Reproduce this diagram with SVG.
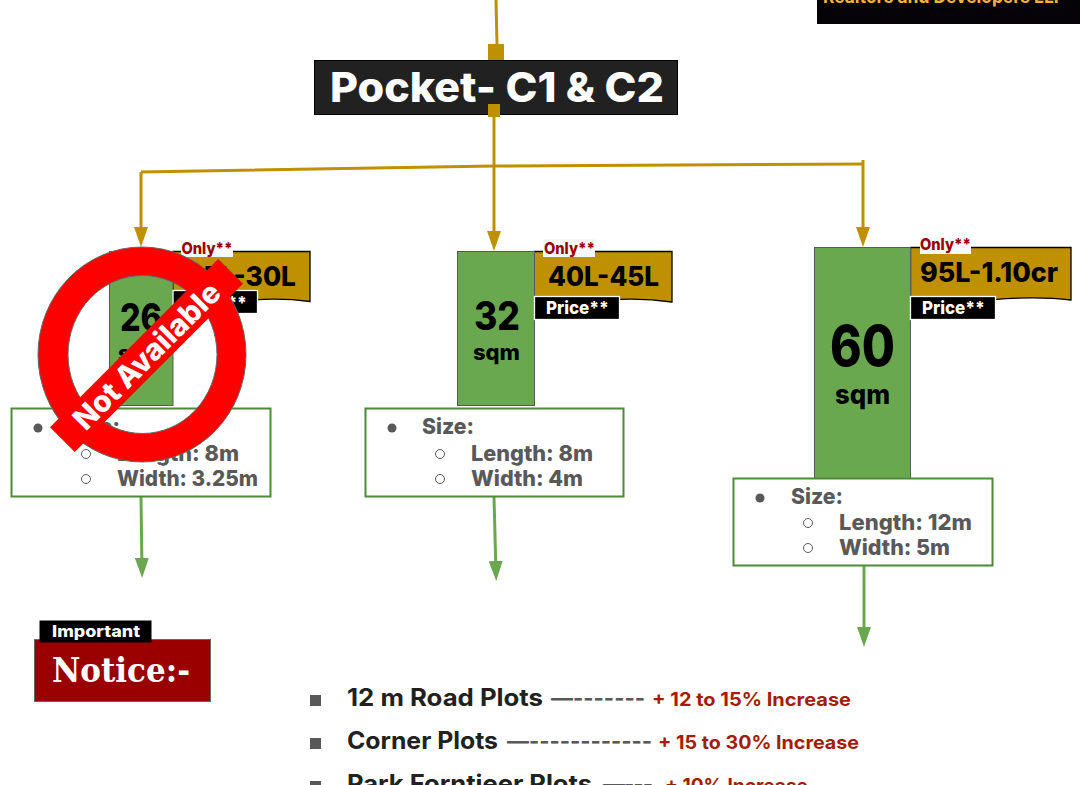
<svg xmlns="http://www.w3.org/2000/svg" width="1080" height="785" viewBox="0 0 1080 785">
<style>
text{font-family:"Inter","Noto Sans",sans-serif;font-weight:800}
.plot{fill:#6aa84f;stroke:#595959;stroke-width:1}
.price{fill:#bf9000;stroke:#000;stroke-width:1.3}
.tag{fill:#000;stroke:#fff;stroke-width:1.3}
.tagt{fill:#fff;font-size:18px}
.only{fill:#f8f9fa}
.onlyt{fill:#990000;font-size:16px}
.rng{fill:#000;font-size:27px}
.num{fill:#000}
.box{fill:#fff;stroke:#4d8a37;stroke-width:2}
.li{fill:#595959;font-size:22px}
.bul{fill:#595959}
.cir{fill:none;stroke:#595959;stroke-width:1}
.gold{fill:none;stroke:#bf9000;stroke-width:3}
.green{fill:none;stroke:#6aa84f;stroke-width:3}
.ln{fill:#212121;font-size:24px;font-weight:700}
.dash{fill:#595959;font-size:22px;font-weight:700}
.red{fill:#a61c00;font-size:18.500px;font-weight:700}
</style>
<defs>
<marker id="agr" markerUnits="userSpaceOnUse" markerWidth="20" markerHeight="14" refX="12" refY="7" orient="auto"><path d="M0 0L20 7L0 14z" fill="#6aa84f"/></marker>
<marker id="agd" markerUnits="userSpaceOnUse" markerWidth="20" markerHeight="14" refX="12" refY="7" orient="auto"><path d="M0 0L20 7L0 14z" fill="#bf9000"/></marker>
</defs>

<g id="developer-badge"><rect x="817" y="-10" width="263" height="34" fill="#050208"/><text x="823" y="3" font-size="18.500" fill="#f9b233" style="font-weight:700" textLength="242" lengthAdjust="spacingAndGlyphs">Realtors and Developers LLP</text></g>

<g id="connectors">
<path class="gold" d="M496 0L497 44"/>
<rect x="488" y="44" width="16" height="17" fill="#bf9000"/>
<path class="gold" d="M141 172L494 166L863 164"/>
<path class="gold" marker-end="url(#agd)" d="M141 172V239"/>
<path class="gold" marker-end="url(#agd)" d="M494 117V243"/>
<path class="gold" marker-end="url(#agd)" d="M863 160V239"/>
<path class="green" marker-end="url(#agr)" d="M141 497L142 570"/>
<path class="green" marker-end="url(#agr)" d="M494 497L496 573"/>
<path class="green" marker-end="url(#agr)" d="M864 566V639"/>
</g>

<g id="pocket-title"><rect x="314.500" y="60.500" width="363" height="54" fill="#212121" stroke="#000" stroke-width="1"/><text x="330" y="102" font-size="41" fill="#fff" textLength="334" lengthAdjust="spacingAndGlyphs">Pocket- C1 &amp; C2</text><rect x="488" y="104" width="12" height="13" fill="#bf9000"/></g>

<g id="plot-26">
<path class="price" d="M173 251.500H310V301.500C270 296 225 300 173 313z"/>
<text class="rng" x="186" y="286" textLength="110" lengthAdjust="spacingAndGlyphs">25L-30L</text>
<rect class="plot" x="109.500" y="251.500" width="63.500" height="154"/>
<text class="num" x="120" y="331" font-size="38" textLength="42" lengthAdjust="spacingAndGlyphs">26</text><text class="num" x="118" y="361" font-size="22" textLength="47" lengthAdjust="spacingAndGlyphs">sqm</text>
<rect class="only" x="181" y="241" width="52" height="16"/><text class="onlyt" x="181.500" y="254" textLength="51" lengthAdjust="spacingAndGlyphs">Only**</text>
<rect class="tag" x="173" y="290.500" width="84.500" height="23"/><text class="tagt" x="184" y="308.500" textLength="63" lengthAdjust="spacingAndGlyphs">Price**</text>
</g>
<g id="size-26"><rect class="box" x="11.500" y="408.500" width="259" height="88"/>
<circle class="bul" cx="38" cy="428" r="4.500"/><text class="li" x="68" y="434" textLength="52" lengthAdjust="spacingAndGlyphs">Size:</text>
<circle class="cir" cx="86" cy="454" r="4.500"/><text class="li" x="117" y="461" textLength="122" lengthAdjust="spacingAndGlyphs">Length: 8m</text>
<circle class="cir" cx="86" cy="479" r="4.500"/><text class="li" x="117" y="486" textLength="141" lengthAdjust="spacingAndGlyphs">Width: 3.25m</text></g>

<g id="plot-32">
<path class="price" d="M534 251.500H672V302C630 296 590 299 534 313z"/>
<text class="rng" x="548" y="286" textLength="111" lengthAdjust="spacingAndGlyphs">40L-45L</text>
<rect class="plot" x="457.500" y="251.500" width="77" height="154"/>
<text class="num" x="474" y="330" font-size="39" textLength="46" lengthAdjust="spacingAndGlyphs">32</text><text class="num" x="473" y="360" font-size="22" textLength="47" lengthAdjust="spacingAndGlyphs">sqm</text>
<rect class="only" x="543" y="239" width="52" height="18"/><text class="onlyt" x="544" y="254" textLength="51" lengthAdjust="spacingAndGlyphs">Only**</text>
<rect class="tag" x="534.500" y="296.500" width="85" height="23"/><text class="tagt" x="546" y="314" textLength="63" lengthAdjust="spacingAndGlyphs">Price**</text>
</g>
<g id="size-32"><rect class="box" x="365.500" y="408.500" width="258" height="88"/>
<circle class="bul" cx="392" cy="428" r="4.500"/><text class="li" x="422" y="434" textLength="52" lengthAdjust="spacingAndGlyphs">Size:</text>
<circle class="cir" cx="440" cy="454" r="4.500"/><text class="li" x="471" y="461" textLength="122" lengthAdjust="spacingAndGlyphs">Length: 8m</text>
<circle class="cir" cx="440" cy="479" r="4.500"/><text class="li" x="471" y="486" textLength="112" lengthAdjust="spacingAndGlyphs">Width: 4m</text></g>

<g id="plot-60">
<path class="price" d="M910.500 247.500H1071V300C1030 295 975 299 910.500 312z"/>
<text class="rng" x="920" y="282" textLength="138" lengthAdjust="spacingAndGlyphs">95L-1.10cr</text>
<rect class="plot" x="814.500" y="247.500" width="96" height="231"/>
<text class="num" x="830" y="366" font-size="56" textLength="65" lengthAdjust="spacingAndGlyphs">60</text><text class="num" x="835" y="404" font-size="27" textLength="55" lengthAdjust="spacingAndGlyphs">sqm</text>
<rect class="only" x="920" y="237" width="51" height="17"/><text class="onlyt" x="920" y="250" textLength="51" lengthAdjust="spacingAndGlyphs">Only**</text>
<rect class="tag" x="910.500" y="296.500" width="85" height="23"/><text class="tagt" x="922" y="314" textLength="63" lengthAdjust="spacingAndGlyphs">Price**</text>
</g>
<g id="size-60"><rect class="box" x="733.500" y="478.500" width="259" height="87"/>
<circle class="bul" cx="760" cy="498" r="4.500"/><text class="li" x="791" y="504" textLength="52" lengthAdjust="spacingAndGlyphs">Size:</text>
<circle class="cir" cx="808" cy="523" r="4.500"/><text class="li" x="839" y="530" textLength="133" lengthAdjust="spacingAndGlyphs">Length: 12m</text>
<circle class="cir" cx="808" cy="548" r="4.500"/><text class="li" x="839" y="555" textLength="111" lengthAdjust="spacingAndGlyphs">Width: 5m</text></g>

<g id="not-available">
<path fill-rule="evenodd" fill="#f00" stroke="#666" stroke-width="1" d="M38 354.500a104 107.500 0 1 0 208 0a104 107.500 0 1 0 -208 0zM68 354.500a74.500 79 0 1 1 149 0a74.500 79 0 1 1 -149 0z"/>
<g transform="translate(146.500 355.500) rotate(-45)"><rect x="-119" y="-17.500" width="238" height="35" fill="#f00"/><text x="-97" y="11" font-size="30" fill="#fff" textLength="194" lengthAdjust="spacingAndGlyphs">Not Available</text></g>
</g>

<g id="notice"><rect x="34.500" y="639.500" width="176" height="62" fill="#990000" stroke="#666" stroke-width="1"/><text x="52" y="682" font-size="34" fill="#fff" style="font-family:'DejaVu Serif',serif;font-weight:700" textLength="138" lengthAdjust="spacingAndGlyphs">Notice:-</text>
<rect x="39.500" y="620.500" width="112" height="22" fill="#000"/><text x="52" y="637" font-size="15.500" fill="#fff" textLength="88" lengthAdjust="spacingAndGlyphs">Important</text></g>

<g id="increase-list">
<rect x="310" y="695" width="11" height="11" fill="#595959"/><text class="ln" x="347" y="706" textLength="196" lengthAdjust="spacingAndGlyphs">12 m Road Plots</text><text class="dash" x="551" y="706" textLength="94">—-------</text><text class="red" x="652" y="706" textLength="199" lengthAdjust="spacingAndGlyphs">+ 12 to 15% Increase</text>
<rect x="310" y="738" width="11" height="11" fill="#595959"/><text class="ln" x="347" y="749" textLength="151" lengthAdjust="spacingAndGlyphs">Corner Plots</text><text class="dash" x="507" y="749" textLength="145">—------------</text><text class="red" x="658" y="749" textLength="201" lengthAdjust="spacingAndGlyphs">+ 15 to 30% Increase</text>
<rect x="310" y="781" width="11" height="11" fill="#595959"/><text class="ln" x="347" y="792" textLength="245" lengthAdjust="spacingAndGlyphs">Park Forntieer Plots</text><text class="dash" x="603" y="792" textLength="50">—---</text><text class="red" x="665" y="792" textLength="143" lengthAdjust="spacingAndGlyphs">+ 10% Increase</text>
</g>
</svg>
